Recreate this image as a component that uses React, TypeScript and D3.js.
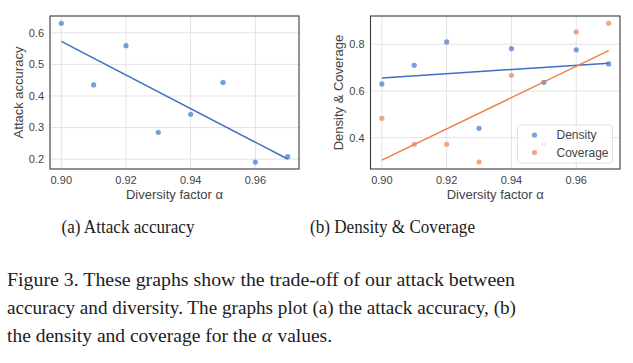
import { useEffect, useRef } from 'react';
import * as d3 from 'd3';

const alphas = [0.9, 0.91, 0.92, 0.93, 0.94, 0.95, 0.96, 0.97];
const attackAccuracy = [0.63, 0.435, 0.559, 0.285, 0.342, 0.443, 0.191, 0.208];
const density = [0.63, 0.71, 0.81, 0.44, 0.781, 0.637, 0.776, 0.716];
const coverage = [0.483, 0.372, 0.372, 0.296, 0.667, 0.372, 0.853, 0.89];

const xTicks = [0.9, 0.92, 0.94, 0.96];
const yTicksA = [0.2, 0.3, 0.4, 0.5, 0.6];
const yTicksB = [0.4, 0.6, 0.8];

const subCaptions = ['(a) Attack accuracy', '(b) Density & Coverage'];
// last line has the italic alpha split out
const captionLines = [
  ['Figure 3.  These graphs show the trade-off of our attack between'],
  ['accuracy and diversity. The graphs plot (a) the attack accuracy, (b)'],
  ['the density and coverage for the', '\u03b1', 'values.'],
];

const BLUE = '#3d6fc4';
const BLUE_PT = '#4a7fd0';
const ORANGE = '#f07f45';
const ORANGE_PT = '#ef8a55';

// least squares fit, like sns.regplot without the band
function fit(xs: number[], ys: number[]) {
  const mx = d3.mean(xs)!;
  const my = d3.mean(ys)!;
  const num = d3.sum(xs, (x, i) => (x - mx) * (ys[i] - my));
  const den = d3.sum(xs, (x) => (x - mx) ** 2);
  const b = num / den;
  return (x: number) => my + b * (x - mx);
}

const App = () => {
  const ref = useRef<SVGSVGElement>(null);

  useEffect(() => {
    const svg = d3.select(ref.current);
    svg.selectAll('*').remove();
    const font = '"Liberation Sans", Arial, sans-serif';

    function panel(opts: {
      left: number;
      right: number;
      yDomain: [number, number];
      yTicks: number[];
      ylabel: string;
      ylabelX: number;
      series: { values: number[]; line: string; pt: string; name: string }[];
      legend?: boolean;
    }) {
      const top = 16;
      const bottom = 169;
      const x = d3.scaleLinear().domain([0.8965, 0.9735]).range([opts.left, opts.right]);
      const y = d3.scaleLinear().domain(opts.yDomain).range([bottom, top]);
      const g = svg.append('g');

      // grid
      g.selectAll('.gx')
        .data(xTicks)
        .enter()
        .append('line')
        .attr('x1', (d) => x(d))
        .attr('x2', (d) => x(d))
        .attr('y1', top)
        .attr('y2', bottom)
        .attr('stroke', '#e3e3e3')
        .attr('stroke-width', 1);
      g.selectAll('.gy')
        .data(opts.yTicks)
        .enter()
        .append('line')
        .attr('x1', opts.left)
        .attr('x2', opts.right)
        .attr('y1', (d) => y(d))
        .attr('y2', (d) => y(d))
        .attr('stroke', '#e3e3e3')
        .attr('stroke-width', 1);

      // tick labels
      g.selectAll('.tx')
        .data(xTicks)
        .enter()
        .append('text')
        .attr('x', (d) => x(d))
        .attr('y', bottom + 15)
        .attr('text-anchor', 'middle')
        .attr('font-family', font)
        .attr('font-size', 11)
        .attr('fill', '#444')
        .text((d) => d3.format('.2f')(d));
      g.selectAll('.ty')
        .data(opts.yTicks)
        .enter()
        .append('text')
        .attr('x', opts.left - 6)
        .attr('y', (d) => y(d))
        .attr('dy', '0.35em')
        .attr('text-anchor', 'end')
        .attr('font-family', font)
        .attr('font-size', 11)
        .attr('fill', '#444')
        .text((d) => d3.format('.1f')(d));

      // axis labels
      g.append('text')
        .attr('x', (opts.left + opts.right) / 2)
        .attr('y', bottom + 30)
        .attr('text-anchor', 'middle')
        .attr('font-family', font)
        .attr('font-size', 13)
        .attr('fill', '#444')
        .text('Diversity factor \u03b1');
      g.append('text')
        .attr('transform', `translate(${opts.ylabelX},${(top + bottom) / 2}) rotate(-90)`)
        .attr('text-anchor', 'middle')
        .attr('dy', '0.35em')
        .attr('font-family', font)
        .attr('font-size', 13)
        .attr('fill', '#444')
        .text(opts.ylabel);

      // points then fit lines
      opts.series.forEach((s) => {
        g.selectAll(null)
          .data(alphas)
          .enter()
          .append('circle')
          .attr('cx', (d) => x(d))
          .attr('cy', (d, i) => y(s.values[i]))
          .attr('r', 2.6)
          .attr('fill', s.pt)
          .attr('opacity', 0.75);
      });
      opts.series.forEach((s) => {
        const f = fit(alphas, s.values);
        const x0 = d3.min(alphas)!;
        const x1 = d3.max(alphas)!;
        g.append('line')
          .attr('x1', x(x0))
          .attr('y1', y(f(x0)))
          .attr('x2', x(x1))
          .attr('y2', y(f(x1)))
          .attr('stroke', s.line)
          .attr('stroke-width', 1.5);
      });

      if (opts.legend) {
        const lx = 517.5;
        const ly = 125;
        g.append('rect')
          .attr('x', lx)
          .attr('y', ly)
          .attr('width', 95)
          .attr('height', 38)
          .attr('rx', 3)
          .attr('fill', 'white')
          .attr('fill-opacity', 0.8)
          .attr('stroke', '#d8d8d8')
          .attr('stroke-width', 0.8);
        opts.series.forEach((s, i) => {
          g.append('circle')
            .attr('cx', lx + 17)
            .attr('cy', ly + 10 + i * 17.5)
            .attr('r', 2.6)
            .attr('fill', s.pt)
            .attr('opacity', 0.75);
          g.append('text')
            .attr('x', lx + 39)
            .attr('y', ly + 10 + i * 17.5)
            .attr('dy', '0.35em')
            .attr('font-family', font)
            .attr('font-size', 12)
            .attr('fill', '#444')
            .text(s.name);
        });
      }

      // frame
      g.append('rect')
        .attr('x', opts.left)
        .attr('y', top)
        .attr('width', opts.right - opts.left)
        .attr('height', bottom - top)
        .attr('fill', 'none')
        .attr('stroke', '#3a3a3a')
        .attr('stroke-width', 1.1);
    }

    panel({
      left: 50,
      right: 299,
      yDomain: [0.169, 0.653],
      yTicks: yTicksA,
      ylabel: 'Attack accuracy',
      ylabelX: 18,
      series: [{ values: attackAccuracy, line: BLUE, pt: BLUE_PT, name: 'Attack accuracy' }],
    });

    panel({
      left: 370.5,
      right: 620,
      yDomain: [0.266, 0.921],
      yTicks: yTicksB,
      ylabel: 'Density & Coverage',
      ylabelX: 338,
      series: [
        { values: density, line: BLUE, pt: BLUE_PT, name: 'Density' },
        { values: coverage, line: ORANGE, pt: ORANGE_PT, name: 'Coverage' },
      ],
      legend: true,
    });

    const serif = '"Liberation Serif", "Times New Roman", serif';
    const subPos = [
      { x: 61.5, w: 133 },
      { x: 310, w: 165 },
    ];
    subCaptions.forEach((t, i) => {
      svg
        .append('text')
        .attr('x', subPos[i].x)
        .attr('y', 233)
        .attr('font-family', serif)
        .attr('font-size', 18.5)
        .attr('fill', '#1c1c24')
        .attr('textLength', subPos[i].w)
        .attr('lengthAdjust', 'spacingAndGlyphs')
        .text(t);
    });

    const lineW = [508, 509];
    const lineY = [286, 314, 342];
    const capSize = 19.5;
    captionLines.forEach((parts, i) => {
      if (parts.length === 1) {
        svg
          .append('text')
          .attr('x', 7)
          .attr('y', lineY[i])
          .attr('font-family', serif)
          .attr('font-size', capSize)
          .attr('fill', '#1c1c24')
          .attr('textLength', lineW[i])
          .attr('lengthAdjust', 'spacingAndGlyphs')
          .text(parts[0]);
        return;
      }
      // last line: lay the pieces out one after another
      let cx = 7;
      parts.forEach((p) => {
        const t = svg
          .append('text')
          .attr('x', cx)
          .attr('y', lineY[i])
          .attr('font-family', serif)
          .attr('font-size', capSize)
          .attr('font-style', p === '\u03b1' ? 'italic' : null)
          .attr('fill', '#1c1c24')
          .text(p);
        const w = (t.node() as SVGTextElement).getComputedTextLength();
        cx += w + capSize * 0.27;
      });
    });
  }, []);

  return (
    <svg
      ref={ref}
      width={633}
      height={363}
      style={{ position: 'absolute', left: 0, top: 0, background: 'white', display: 'block' }}
    />
  );
};

export default App;
